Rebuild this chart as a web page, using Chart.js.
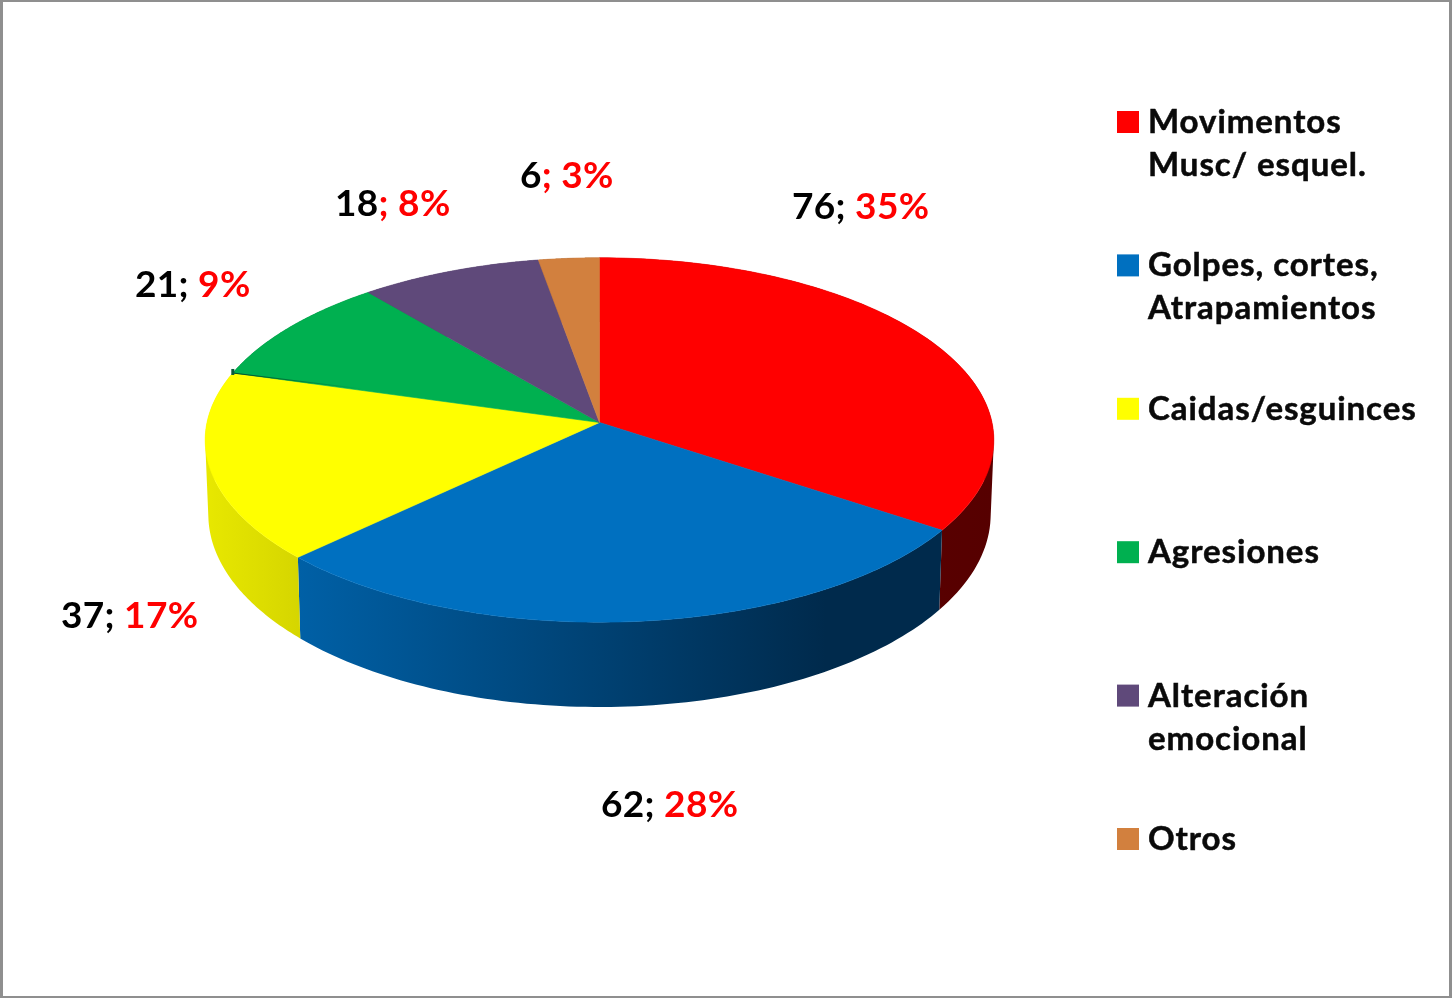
<!DOCTYPE html>
<html>
<head>
<meta charset="utf-8">
<style>
html,body{margin:0;padding:0;background:#fff;overflow:hidden}
#wrap{position:relative;width:1452px;height:998px}
canvas{display:block;filter:blur(0.55px)}
#frame{position:absolute;inset:0;box-sizing:border-box;border:solid #8f8f8f;border-width:2px 3px 2px 3px;pointer-events:none}
</style>
<script src="https://cdn.jsdelivr.net/npm/chart.js@4"></script>
</head>
<body>
<div id="wrap"><canvas id="c" width="1452" height="998"></canvas><div id="frame"></div></div>
<script>
const categories = [["Movimentos","Musc/ esquel."],["Golpes, cortes,","Atrapamientos"],["Caidas/esguinces"],["Agresiones"],["Alteración","emocional"],["Otros"]];
const values = [76,62,37,21,18,6];
const percents = ["35%","28%","17%","9%","8%","3%"];
const topColors = ["#FF0000","#0070C0","#FFFF00","#00B050","#5F497A","#D2803E"];
const sideStops = [["#640000","#560000"],["#0060A6","#002A4C"],["#E8E800","#D6D600"],["#006030","#006030"],["#3A2C4A","#3A2C4A"],["#7E4D25","#7E4D25"]];
// whether the ";" of each data label is red, as in the picture
const redSemicolon = [false,false,false,false,true,true];
// label layout: left edge and baseline
const labelLeft = [792,601,61,135,335,520];
const labelBase = [219,817,628,297,216,188];

const FONT = 'Lato, Carlito, sans-serif';
const K = -0.0959;        // perspective of the tilted disc
const TOP_Y = 0.46, BOT_X = 0.992, BOT_Y = 0.486, DEPTH = 73.5;

function proj(el, a, lower){
  const x = Math.cos(a), y = Math.sin(a), w = 1 + K*y, R = el.outerRadius;
  return lower
    ? [el.x + R*BOT_X*x/w, el.y + DEPTH + R*BOT_Y*y/w]
    : [el.x + R*x/w, el.y + R*TOP_Y*y/w];
}
const STEPS = 90;
function rim(ctx, el, a0, a1, lower){
  for(let i=0;i<=STEPS;i++){
    const p = proj(el, a0+(a1-a0)*i/STEPS, lower);
    ctx.lineTo(p[0],p[1]);
  }
}
function area(q){
  let s = 0;
  q.forEach((p,i)=>{ const n = q[(i+1)%q.length]; s += p[0]*n[1]-n[0]*p[1]; });
  return s;
}

const pie3d = {
  id:'pie3d',
  beforeDatasetDraw(chart, args){
    const ctx = chart.ctx, arcs = chart.getDatasetMeta(args.index).data;
    ctx.save();
    // side walls: one path of same-winding quads, so the silhouette is filled without seams
    arcs.forEach((el,i)=>{
      const da = (el.endAngle-el.startAngle)/STEPS;
      const xs = []; for(let s=0;s<=STEPS;s++) xs.push(proj(el, el.startAngle+da*s)[0]);
      const g = ctx.createLinearGradient(Math.min(...xs),0,Math.max(...xs),0);
      const stops = sideStops[i];
      if(i===1){ g.addColorStop(0,stops[0]); g.addColorStop(0.82,stops[1]); g.addColorStop(1,stops[1]); }
      else { g.addColorStop(0,stops[0]); g.addColorStop(1,stops[1]); }
      ctx.beginPath();
      for(let s=0;s<STEPS;s++){
        const a = el.startAngle+da*s, b = a+da;
        let q = [proj(el,a), proj(el,b), proj(el,b,true), proj(el,a,true)];
        if(area(q) < 0) q = q.reverse();
        ctx.moveTo(q[0][0],q[0][1]);
        for(let j=1;j<4;j++) ctx.lineTo(q[j][0],q[j][1]);
        ctx.closePath();
      }
      ctx.fillStyle = g; ctx.fill();
    });
    // top faces
    arcs.forEach((el,i)=>{
      ctx.beginPath();
      ctx.moveTo(el.x, el.y);
      rim(ctx, el, el.startAngle, el.endAngle, false);
      ctx.closePath();
      ctx.fillStyle = topColors[i]; ctx.fill();
      ctx.strokeStyle = topColors[i]; ctx.lineWidth = 0.6; ctx.stroke();
    });
    // dark sliver where the green slice lifts off the yellow one
    const gr = arcs[3], c = proj(gr, gr.startAngle);
    const g2 = ctx.createLinearGradient(c[0],0,c[0]+130,0);
    g2.addColorStop(0,'rgba(0,70,40,0.95)'); g2.addColorStop(1,'rgba(0,70,40,0)');
    ctx.beginPath(); ctx.moveTo(c[0],c[1]); ctx.lineTo(c[0]+130,c[1]+16);
    ctx.strokeStyle = g2; ctx.lineWidth = 1.2; ctx.stroke();
    ctx.fillStyle = '#0A5A3A'; ctx.fillRect(c[0]-1.5,c[1]-4,3,6);
    ctx.restore();
    return false;
  },
  afterDraw(chart){
    const ctx = chart.ctx;
    ctx.save();
    ctx.textBaseline = 'alphabetic'; ctx.textAlign = 'left';
    // data labels
    ctx.font = '700 37px '+FONT;
    ctx.letterSpacing = '0.3px';
    values.forEach((v,i)=>{
      let x = labelLeft[i], y = labelBase[i];
      const head = String(v), semi = '; ', pct = percents[i];
      ctx.fillStyle = '#000'; ctx.fillText(head,x,y); x += ctx.measureText(head).width;
      ctx.fillStyle = redSemicolon[i] ? '#FF0000' : '#000'; ctx.fillText(semi,x,y); x += ctx.measureText(semi).width;
      ctx.fillStyle = '#FF0000'; ctx.fillText(pct,x,y);
    });
    // legend
    ctx.font = '700 33px '+FONT;
    ctx.letterSpacing = '0.95px';
    ctx.lineWidth = 0.5; ctx.strokeStyle = '#0a0a0a';
    chart.data.labels.forEach((lab,i)=>{
      const base = 133 + i*143.4;
      ctx.fillStyle = topColors[i];
      ctx.fillRect(1117, base-22, 22, 22);
      ctx.fillStyle = '#0a0a0a';
      lab.forEach((line,j)=>{ ctx.fillText(line,1148,base+j*43); ctx.strokeText(line,1148,base+j*43); });
    });
    ctx.restore();
  }
};

new Chart(document.getElementById('c'),{
  type:'pie',
  data:{labels:categories,datasets:[{data:values,backgroundColor:topColors,borderWidth:0}]},
  plugins:[pie3d],
  options:{
    responsive:false,animation:false,
    layout:{padding:{left:207,right:460,top:30,bottom:183}},
    plugins:{legend:{display:false},tooltip:{enabled:false}}
  }
});
</script>
</body>
</html>
